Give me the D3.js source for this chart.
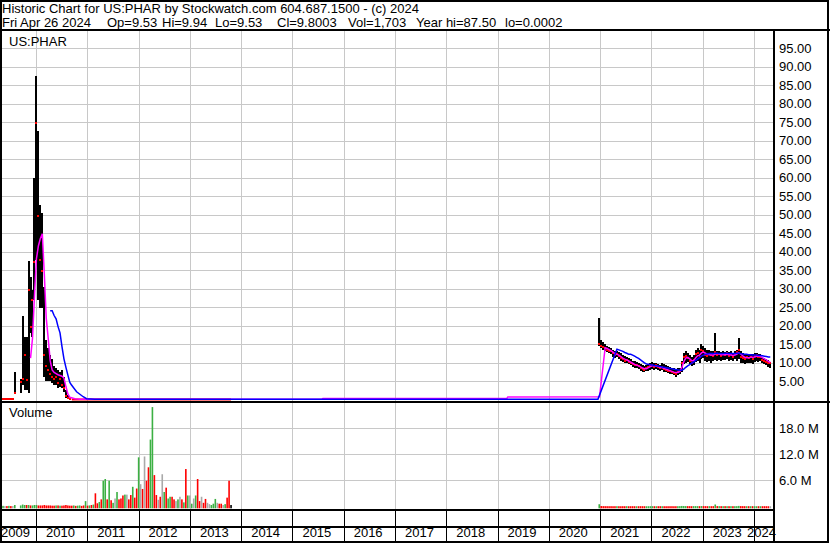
<!DOCTYPE html>
<html>
<head>
<meta charset="utf-8">
<script src="https://cdn.jsdelivr.net/npm/d3@7"></script>
<style>
  body { margin: 0; background: #fff; }
  svg { display: block; font-family: "Liberation Sans", Arial, sans-serif; }
  text { font-size: 13px; fill: #000; }
</style>
</head>
<body>
<svg id="chart" width="830" height="543"></svg>
<script>
// ---- header text ----
const title = "Historic Chart for US:PHAR by Stockwatch.com 604.687.1500 - (c) 2024";
const quoteItems = ["Fri Apr 26 2024", "Op=9.53", "Hi=9.94", "Lo=9.53", "Cl=9.8003", "Vol=1,703", "Year hi=87.50", "lo=0.0002"];
const symbol = "US:PHAR";

// ---- axis ticks ----
const years = [2009, 2010, 2011, 2012, 2013, 2014, 2015, 2016, 2017, 2018, 2019, 2020, 2021, 2022, 2023, 2024];
const priceTicks = [5, 10, 15, 20, 25, 30, 35, 40, 45, 50, 55, 60, 65, 70, 75, 80, 85, 90, 95];
const volTicks = [6, 12, 18]; // millions

// ---- 2009-2010 trading, one bar every two weeks ----
const s1Start = "2009-05-11";
const s1High  = [0.15,0.12,0.1,0.12,0.1,0.1,7.4,null,null,5.5,22.5,17,17,37.4,33,29.6,60,87.5,72.5,52.6,50.4,30.5,16,14,12,11,9,8.5,8,7.5,8,6,2.5,1.2,0.4];
const s1Low   = [0.05,0.05,0.05,0.05,0.05,0.05,1.8,null,null,1.8,3.9,2.5,2.5,1.8,18,17,27,37.7,27,24.7,24.7,6.1,5,5,5,4.5,3.9,4,3,3.5,3,2,0.5,0.1,0.05];
const s1Close = [0.1,0.1,0.08,0.1,0.08,0.08,1.8,null,null,4.8,5.5,12,5.4,29.6,19.7,27,37.2,74.8,49.6,37.7,34.8,12,9,8,7,6,5.5,6,4.5,5.5,4,3,1,0.3,0.1];
const s1Vol   = [0.1,0.05,0.05,0.1,0.05,0.05,0.3,0,0,0.2,0.4,0.3,0.3,0.3,0.2,0.2,0.3,0.3,0.2,0.2,0.2,0.3,0.2,0.2,0.2,0.15,0.15,0.2,0.2,0.15,0.15,0.2,0.3,0.2,0.15];
const s1MaShort = [null,null,null,null,null,null,null,null,null,null,null,null,null,null,11.2,16.5,28,38,41.5,43.5,44.8,34,22,16.5,10.5,8,7.3,7,6.7,6.5,6.3,5.8,3.5,1.5,0.6];
const s1MaLong  = [null,null,null,null,null,null,null,null,null,null,null,null,null,null,null,null,null,null,null,null,null,null,null,null,24,24,22.7,21.8,19.7,18,14.3,11,8.7,6.6,4.6];

// ---- 2010-2013 sub-penny trading: volume (millions) and direction ----
const s2Start = "2010-09-13";
const s2Vol = [0.15,0.2,0.1,0.15,0.2,0.1,0.2,1.2,0.15,0.2,0.3,0.4,3.0,0.7,1.0,1.6,5.9,6.3,1.6,5.9,
               1.4,0.8,1.8,3.3,1.6,1.8,2.5,2.7,2.7,1.6,2.6,4.5,2.0,4.1,11.3,5.1,4.0,11.5,5.9,9.0,
               15.4,22.9,7.2,2.6,1.5,2.2,7.4,3.3,4.3,1.8,2.2,2.2,1.6,1.2,1.6,2.2,1.6,0.9,8.6,2.5,
               2.5,0.6,1.8,2.5,6.3,1.2,2.2,0.8,1.7,0.8,0.5,0.3,0.6,1.7,0.8,0.6,0.6,0.3,0.5,2.0,
               5.9,0.3];
const s2Dir = "duduuddudud" + "uddud" + "uudud" + "unudd" + "dundd" + "uddun" + "dnddu" + "uddnd" +
              "nuduu" + "ddnun" + "dudun" + "unudd" + "nddnn" + "uuund" + "dnudd";
const flatClose = [["2010-09-13", 0.01], ["2013-10-21", 0.01]];

// ---- moving averages across the no-trade gap ----
const gapMaShort = [["2010-10-05", 0.2], ["2010-11-09", 0.05], ["2015-07-30", 0.05], ["2015-08-06", 0.3],
                    ["2019-03-08", 0.3], ["2019-03-15", 0.7], ["2020-12-27", 0.75]];
const gapMaLong  = [["2010-09-11", 3.9], ["2010-10-17", 2.1], ["2010-12-03", 0.75], ["2010-12-27", 0.2],
                    ["2011-02-24", 0.05], ["2020-12-16", 0.1]];

// ---- 2021-2024 trading, one bar every two weeks ----
const s3Start = "2020-12-25";
const s3High = [22,16,15.5,15,14.5,14.2,13.8,13.5,13,13.2, 12.8,12.5,12,11.8,11.5,11.2,11,10.5,10.4,10.2,
                10,9.5,9.2,9,9.3,9.5,9.8,10.2,9.8,10, 9.6,9.4,9.8,9.5,9.2,9,8.8,8.6,8.5,8.2,
                8.4,8.6,10.5,12.6,13,12.5,12,11.5,12,13.5, 14,13.5,14.9,14.5,13.8,13.5,13.5,13.2,13,17.9,
                13.2,13,12.8,13.1,12.9,13.2,12.8,13,12.7,13.1, 13.4,16.5,13,12.6,12.3,12.2,12,12.4,12.2,12.5,
                12.6,12.4,12.2,11.5,11.3,11,10.6,9.94];
const s3Low  = [14.5,13.8,13.5,13,12.8,12.5,12.3,11.5,11.2,11.5, 11,10.5,10.2,10,9.8,9.5,9.2,8.8,8.5,8.5,
                8.2,7.8,7.5,7.3,7.6,7.8,8,8.2,8,8.3, 8,7.8,7.9,7.5,7.3,7.2,7,6.8,6.5,6.2,
                6.6,6.8,7.5,9.5,10,10.2,9.5,9,9.3,10.2, 10.5,10,11,11.2,10.5,10.2,10.4,10,10.5,10.6,
                10.5,10.8,10.4,10.8,10.6,11,10.5,10.6,10.3,10.9, 10.5,11,10,9.8,9.6,10,9.8,10,9.6,10.2,
                10.4,10.2,10.4,9.8,9.5,9.2,8.8,8.6];
const s3Close = [15,14.5,14.2,14,13.5,13.2,13,12.5,12,12.2, 11.8,11.2,11,10.5,10.8,10.2,10,9.5,9.2,9.4,
                 9,8.5,8.2,8,8.4,8.8,9,9.3,8.9,9.2, 8.7,8.5,8.8,8.3,8,7.8,7.6,7.5,7.2,7,
                 7.4,7.8,10,11.5,11.8,11.2,10.5,10,10.8,12.2, 12.5,11.5,13.5,13,12,11.8,12.3,12,11.8,12.8,
                 12,12.2,11.8,12.4,12,12.5,11.8,12.2,11.6,12.4, 12.8,13.5,11.5,11.2,11,11.4,11.2,11.6,11,11.8,
                 12,11.5,11.6,10.8,10.5,10.2,9.8,9.8];
const s3VolK = [480,60,40,35,30,25,30,20,25,30, 20,15,25,20,30,15,20,25,20,15, 20,30,25,20,15,20,25,30,20,15,
                20,25,20,15,10,15,20,25,15,20, 30,40,80,60,50,40,35,30,45,50, 40,35,60,45,40,30,35,30,35,420,
                45,40,35,30,35,30,25,30,25,30, 40,90,45,35,30,25,30,25,30,25, 20,25,20,25,30,25,20,15];
const s3MaShort = [null,null,null,14,13.8,13.5,13.2,12.8,12.4,12.2, 12,11.6,11.2,10.9,10.7,10.4,10.1,9.8,9.5,9.3,
                   9.1,8.8,8.5,8.3,8.3,8.6,8.9,9.1,9.1,9, 8.9,8.7,8.6,8.4,8.2,8,7.8,7.6,7.4,7.3,
                   7.3,7.6,8.6,10.2,11.2,11.4,11,10.5,10.5,11.2, 11.8,12,12.6,12.8,12.5,12.2,12.1,12,12,12.3,
                   12.4,12.3,12.1,12.1,12.1,12.2,12.1,12,11.9,12, 12.3,12.6,12.3,11.8,11.4,11.3,11.3,11.4,11.4,11.5,
                   11.7,11.7,11.6,11.3,11,10.7,10.3,10];
const s3MaLong = [null,null,null,null,null,null,null,null,null,13.6, 13.4,13.2,13.0,12.7,12.5,12.2,12.2,12.0,11.7,11.4,
                  11.1,10.7,10.3,9.9,9.6,9.5,9.4,9.3,9.2,9.1, 9.0,8.9,8.8,8.7,8.6,8.5,8.4,8.3,8.2,8.1,
                  8.0,7.9,7.9,8.2,8.7,9.1,9.4,9.8,10.1,10.5, 10.9,11.3,11.7,12.0,12.2,12.3,12.4,12.4,12.4,12.5,
                  12.5,12.4,12.4,12.4,12.5,12.5,12.4,12.4,12.4,12.4, 12.5,12.5,12.4,12.3,12.2,12.2,12.1,12.1,12.0,12.0,
                  12.0,11.9,11.9,11.8,11.7,11.6,11.5,11.5];

// ---- build records ----
const parse = d3.timeParse("%Y-%m-%d");
const dates = (start, n) => d3.range(n).map(i => d3.timeDay.offset(parse(start), 14 * i));

function bars(start, hi, lo, cl, vol) {
  const ds = dates(start, hi.length);
  let prev = null;
  return ds.map((d, i) => {
    let dir = "u";
    if (cl[i] != null && prev != null) dir = cl[i] > prev ? "u" : (cl[i] < prev ? "d" : "n");
    if (cl[i] != null) prev = cl[i];
    return { date: d, hi: hi[i], lo: lo[i], cl: cl[i], vol: vol[i], dir: dir };
  });
}
const seg1 = bars(s1Start, s1High, s1Low, s1Close, s1Vol);
const seg3 = bars(s3Start, s3High, s3Low, s3Close, s3VolK.map(v => v / 1000));
const seg2 = dates(s2Start, s2Vol.length).map((d, i) => ({ date: d, vol: s2Vol[i], dir: s2Dir[i] }));

function maSeries(a, gap, c) {
  const pts = [];
  dates(s1Start, a.length).forEach((dt, i) => { if (a[i] != null) pts.push({ date: dt, v: a[i] }); });
  gap.forEach(g => pts.push({ date: parse(g[0]), v: g[1] }));
  dates(s3Start, c.length).forEach((dt, i) => { if (c[i] != null) pts.push({ date: dt, v: c[i] }); });
  return pts.sort((p, q) => p.date - q.date);
}
const maShort = maSeries(s1MaShort, gapMaShort, s3MaShort);
const maLong = maSeries(s1MaLong, gapMaLong, s3MaLong);

// ---- scales ----
const svg = d3.select("#chart");
const plotR = 774;
const x = d3.scaleTime().domain([new Date(2010, 0, 1), new Date(2024, 0, 1)]).range([36, 754]);
const yP = d3.scaleLinear().domain([0, 100]).range([399.5, 29.5]);
const yV = d3.scaleLinear().domain([0, 24]).range([506.3, 402.3]);
const yearDates = years.slice(1).map(y => new Date(y, 0, 1));

// grid
const grid = svg.append("g");
grid.append("g").attr("transform", "translate(0,31)")
  .call(d3.axisBottom(x).tickValues(yearDates).tickSize(478).tickFormat(""));
grid.append("g").attr("transform", `translate(${plotR},0)`)
  .call(d3.axisLeft(yP).tickValues(priceTicks).tickSize(plotR).tickFormat(""));
grid.append("g").attr("transform", `translate(${plotR},0)`)
  .call(d3.axisLeft(yV).tickValues(volTicks).tickSize(plotR).tickFormat(""));
grid.selectAll(".domain").remove();
grid.selectAll("line").attr("stroke", "#c8c8c8").attr("shape-rendering", "crispEdges");

// volume bars
const volColor = { u: "#3cb043", d: "#ff0000", n: "#a9a9a9" };
const vbase = 508.3;
svg.append("g").selectAll("rect").data(seg1.concat(seg2, seg3).filter(d => d.vol > 0)).join("rect")
  .attr("x", d => x(d.date) - 0.8).attr("width", 1.6)
  .attr("y", d => Math.min(yV(d.vol), vbase - 1))
  .attr("height", d => vbase - Math.min(yV(d.vol), vbase - 1))
  .attr("fill", d => volColor[d.dir]);

// price bars
const priced = seg1.concat(seg3).filter(d => d.hi != null);
svg.append("g").selectAll("rect").data(priced).join("rect")
  .attr("x", d => Math.round(x(d.date)) - 1).attr("width", 2)
  .attr("y", d => yP(d.hi)).attr("height", d => Math.max(1, yP(d.lo) - yP(d.hi)))
  .attr("fill", "#000").attr("shape-rendering", "crispEdges");

// near-zero closes
svg.append("path")
  .attr("d", d3.line().x(d => x(parse(d[0]))).y(d => yP(d[1]))(flatClose))
  .attr("stroke", "#ff0000").attr("stroke-width", 2).attr("fill", "none");

// close marks
svg.append("g").selectAll("rect").data(priced).join("rect")
  .attr("x", d => Math.round(x(d.date)) - 1).attr("width", 2)
  .attr("y", d => Math.round(yP(d.cl)) - 1).attr("height", 2)
  .attr("fill", "#ff0000");

// moving averages
const ma = d3.line().x(d => x(d.date)).y(d => yP(d.v));
svg.append("path").attr("d", ma(maShort)).attr("fill", "none").attr("stroke", "#ff00ff").attr("stroke-width", 1.5);
svg.append("path").attr("d", ma(maLong)).attr("fill", "none").attr("stroke", "#0000ff").attr("stroke-width", 1.5);

// right axis labels
const pAxis = svg.append("g").attr("transform", "translate(779,0)")
  .call(d3.axisRight(yP).tickValues(priceTicks).tickSize(0).tickPadding(0).tickFormat(d3.format(".2f")));
const vAxis = svg.append("g").attr("transform", "translate(779,0)")
  .call(d3.axisRight(yV).tickValues(volTicks).tickSize(0).tickPadding(0).tickFormat(d => d3.format(".1f")(d) + " M"));
[pAxis, vAxis].forEach(g => {
  g.select(".domain").remove();
  g.selectAll("text").attr("font-size", 13).attr("font-family", null).attr("fill", "#000");
});

// bottom date bands
const sep = svg.append("g").attr("transform", "translate(0,510)")
  .call(d3.axisBottom(x).tickValues(yearDates).tickSize(33).tickFormat(""));
sep.select(".domain").remove();
sep.selectAll("line").attr("stroke", "#000").attr("shape-rendering", "crispEdges");

const yl = svg.append("g");
years.forEach(y => {
  const t = yl.append("text").attr("y", 537).text(y);
  const w = t.node().getComputedTextLength();
  const b = x(new Date(y, 0, 1)) + 10;
  t.attr("x", Math.max(1, Math.min(b, 776 - w)));
});

// frame lines
const frame = svg.append("g").attr("stroke", "#000").attr("stroke-width", 2).attr("shape-rendering", "crispEdges");
frame.append("rect").attr("x", 1).attr("y", 1).attr("width", 827).attr("height", 541).attr("fill", "none");
[[30, 0, 830], [401.5, 0, 830], [509.5, 0, plotR], [526.5, 0, plotR]].forEach(h =>
  frame.append("line").attr("x1", h[1]).attr("x2", h[2]).attr("y1", h[0]).attr("y2", h[0]));
frame.append("line").attr("x1", plotR).attr("x2", plotR).attr("y1", 30).attr("y2", 543);

// header and labels
svg.append("text").attr("x", 2).attr("y", 12.5).attr("font-size", 13.4).text(title);
const quoteX = [2, 107, 162, 215, 277, 348, 416, 505];
quoteItems.forEach((q, i) => svg.append("text").attr("x", quoteX[i]).attr("y", 26.5).text(q));
svg.append("text").attr("x", 9).attr("y", 46).text(symbol);
svg.append("text").attr("x", 9).attr("y", 417).text("Volume");
</script>
</body>
</html>
